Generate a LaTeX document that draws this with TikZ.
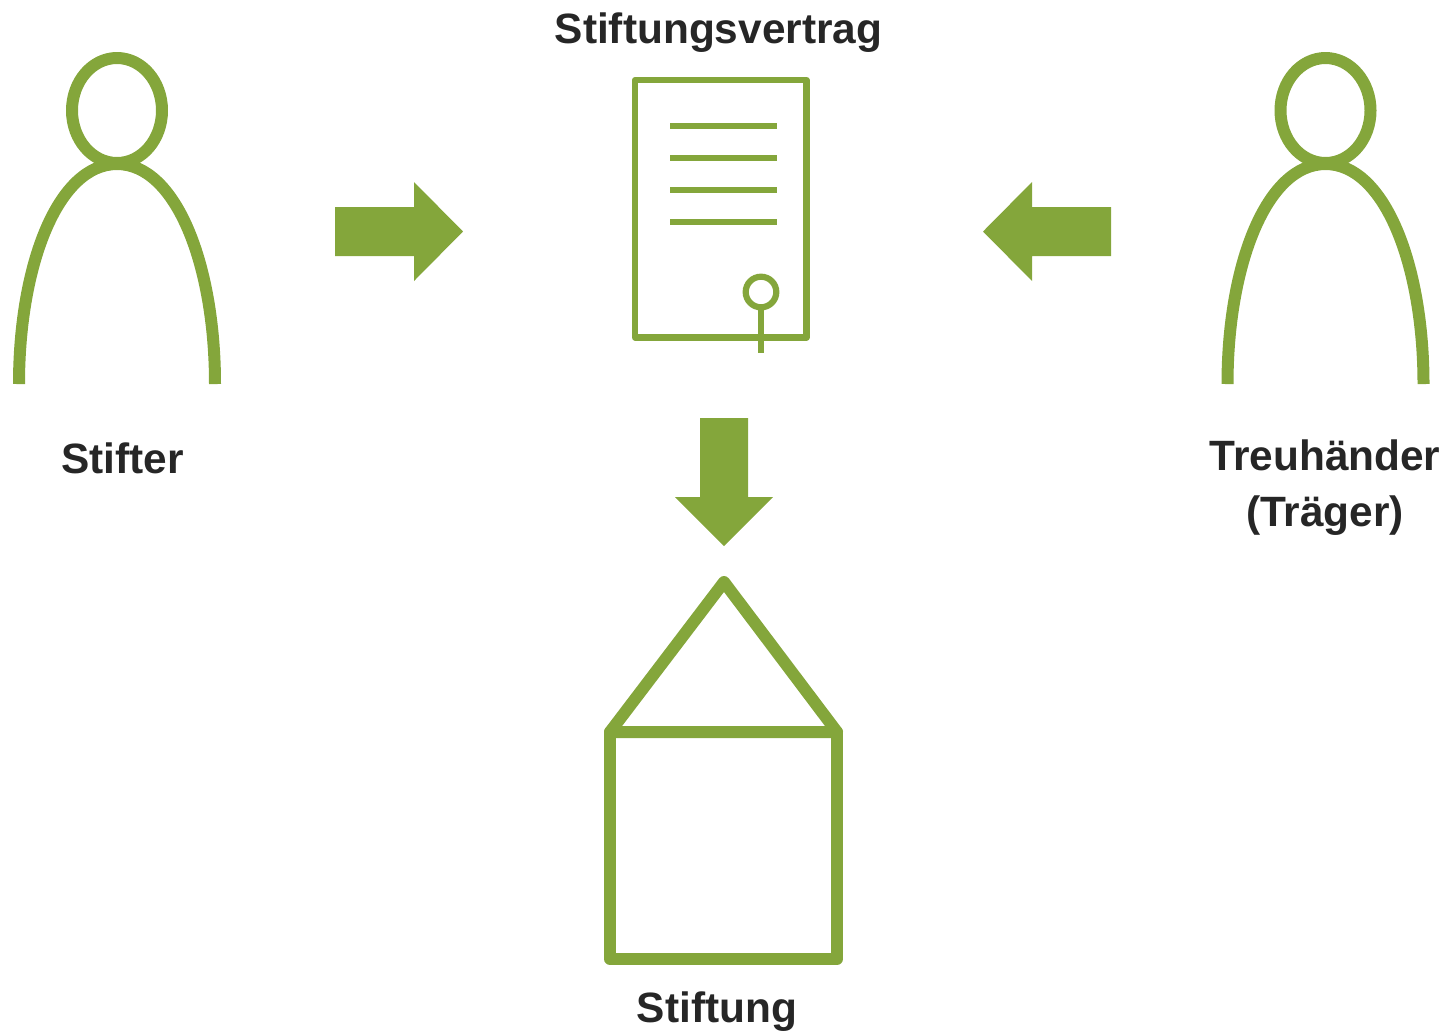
\documentclass[tikz,border=0pt]{standalone}
\usepackage{fontspec}
\setmainfont{Liberation Sans}
\definecolor{leaf}{HTML}{84A63B}
\definecolor{ink}{HTML}{262626}
\tikzset{
  heavy/.style={draw=leaf,line width=6pt,line join=round},
  thin stroke/.style={draw=leaf,line width=3.1pt},
  block/.style={fill=leaf,draw=none},
  caption/.style={font=\fontsize{21.2}{28}\selectfont\bfseries,text=ink,anchor=base,inner sep=0pt}
}
\newcommand{\personfig}[1]{%
  \begin{scope}[xshift=#1*0.5pt]
    \draw[heavy] (117,110.5) ellipse [x radius=45,y radius=52.5];
    \draw[heavy] (19,384) .. controls (19,265) and (58,164) .. (117,164) .. controls (176,164) and (215,265) .. (215,384);
  \end{scope}}
\begin{document}
\begin{tikzpicture}[x=0.5pt,y=-0.5pt]
\useasboundingbox (0,0) rectangle (1450,1030);
\personfig{0}
\personfig{1208.5}
% document
\draw[thin stroke,line join=round] (635,80) rectangle (806.5,337.5);
\foreach \yy in {126,158,190,222} \draw[draw=leaf,line width=3.1pt] (670,\yy) -- (777,\yy);
\draw[thin stroke] (761,292) circle [radius=15.3];
\draw[draw=leaf,line width=3.1pt] (761,307) -- (761,352.7);
% arrows
\fill[block] (335,207) -- (414,207) -- (414,182) -- (463,231.5) -- (414,281) -- (414,256) -- (335,256) -- cycle;
\fill[block] (1111,207) -- (1032,207) -- (1032,182) -- (983,231.5) -- (1032,281) -- (1032,256) -- (1111,256) -- cycle;
\fill[block] (700,418) -- (748,418) -- (748,497) -- (773,497) -- (724,546) -- (675,497) -- (700,497) -- cycle;
% house
\draw[heavy] (610,732) -- (724,582) -- (837,732) -- cycle;
\draw[heavy] (610,732) rectangle (837,959);
% labels
\node[caption] (vertrag) at (718.5,43) {Stiftungsvertrag};
\node[caption] (stifter) at (122.5,473) {Stifter};
\node[caption] (treu) at (1325,470) {Treuhänder};
\node[caption] (traeger) at (1325,526) {(Träger)};
\node[caption] (stiftung) at (717,1022) {Stiftung};
\end{tikzpicture}
\end{document}
